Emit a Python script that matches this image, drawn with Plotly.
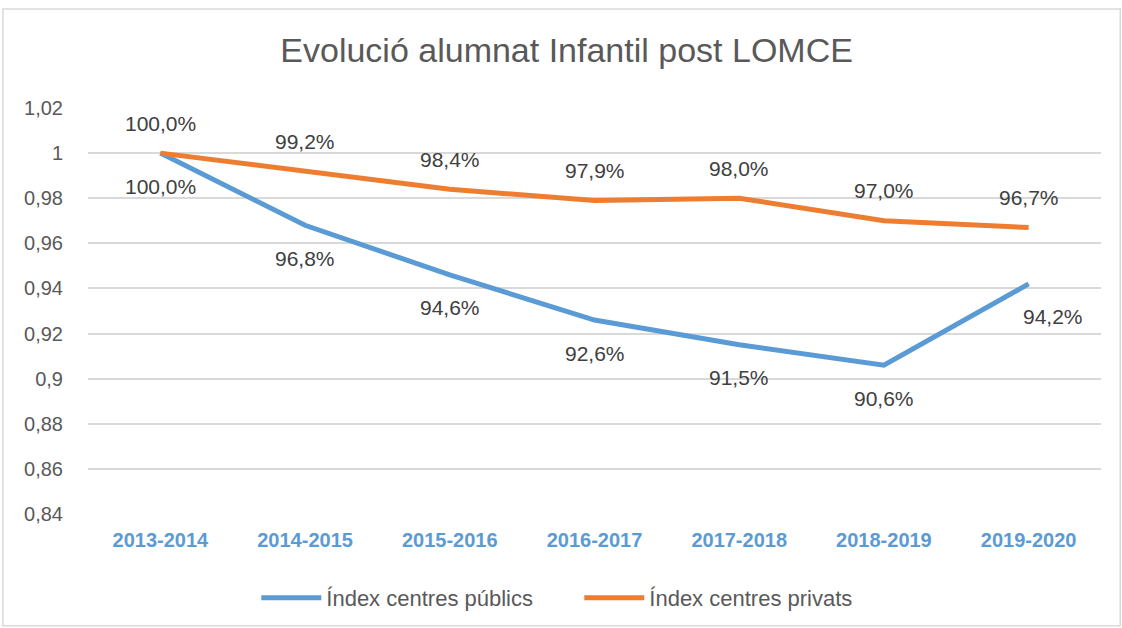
import plotly.graph_objects as go

# -------------------------------------------------
# Data
# -------------------------------------------------
cursos = ["2013-2014", "2014-2015", "2015-2016", "2016-2017",
          "2017-2018", "2018-2019", "2019-2020"]
index_publics = [1.000, 0.968, 0.946, 0.926, 0.915, 0.906, 0.942]
index_privats = [1.000, 0.992, 0.984, 0.979, 0.980, 0.970, 0.967]
y_ticks = [0.84, 0.86, 0.88, 0.90, 0.92, 0.94, 0.96, 0.98, 1.00, 1.02]
y_tick_labels = ["0,84", "0,86", "0,88", "0,9", "0,92", "0,94",
                 "0,96", "0,98", "1", "1,02"]

BLUE = "#5B9BD5"
ORANGE = "#ED7D31"
GREY = "#595959"
FONT = "Liberation Sans, Arial, sans-serif"


def pct(v):
    return f"{v * 100:.1f}%".replace(".", ",")


fig = go.Figure()

fig.add_trace(go.Scatter(
    x=cursos, y=index_publics, mode="lines", name="Índex centres públics",
    line=dict(color=BLUE, width=5),
))
fig.add_trace(go.Scatter(
    x=cursos, y=index_privats, mode="lines", name="Índex centres privats",
    line=dict(color=ORANGE, width=5),
))

# data labels: privats above, públics below (last one below-right)
for c, v in zip(cursos, index_privats):
    fig.add_annotation(x=c, y=v, text=pct(v), showarrow=False, yshift=30,
                       font=dict(size=21, color="#404040", family=FONT))
for i, (c, v) in enumerate(zip(cursos, index_publics)):
    xs = 24 if i == len(cursos) - 1 else 0
    fig.add_annotation(x=c, y=v, text=pct(v), showarrow=False, yshift=-33,
                       xshift=xs,
                       font=dict(size=21, color="#404040", family=FONT))

# outer chart border
fig.add_shape(type="rect", xref="paper", yref="paper",
              x0=-0.084, x1=1.019, y0=-0.275, y1=1.244,
              line=dict(color="#D9D9D9", width=1.5), layer="below")

fig.update_layout(
    width=1122, height=628,
    margin=dict(l=88, r=21, t=108, b=114, autoexpand=False),
    paper_bgcolor="white", plot_bgcolor="white",
    title=dict(text="Evolució alumnat Infantil post LOMCE", x=0.505,
               xanchor="center", y=0.92, yanchor="middle",
               font=dict(size=34, color=GREY, family=FONT)),
    xaxis=dict(range=[-0.5, 6.5], showgrid=False, showline=False, ticks="",
               ticklabelstandoff=12,
               tickfont=dict(size=20, color=BLUE, family=FONT, weight="bold")),
    yaxis=dict(range=[0.84, 1.02], tickvals=y_ticks, ticktext=y_tick_labels,
               showgrid=True, gridcolor="#D9D9D9", gridwidth=1.5,
               zeroline=False, ticks="", ticklabelstandoff=24,
               tickfont=dict(size=20, color=GREY, family=FONT)),
    legend=dict(orientation="h", x=0.485, xanchor="center", y=-0.207,
                yanchor="middle", font=dict(size=22, color=GREY, family=FONT),
                entrywidth=248, itemwidth=60),
    showlegend=True,
)

# drop the default page margin so the figure sits at the window origin
fig.write_html("out.html", config={"displayModeBar": False},
               post_script="document.body.style.margin='0';")
